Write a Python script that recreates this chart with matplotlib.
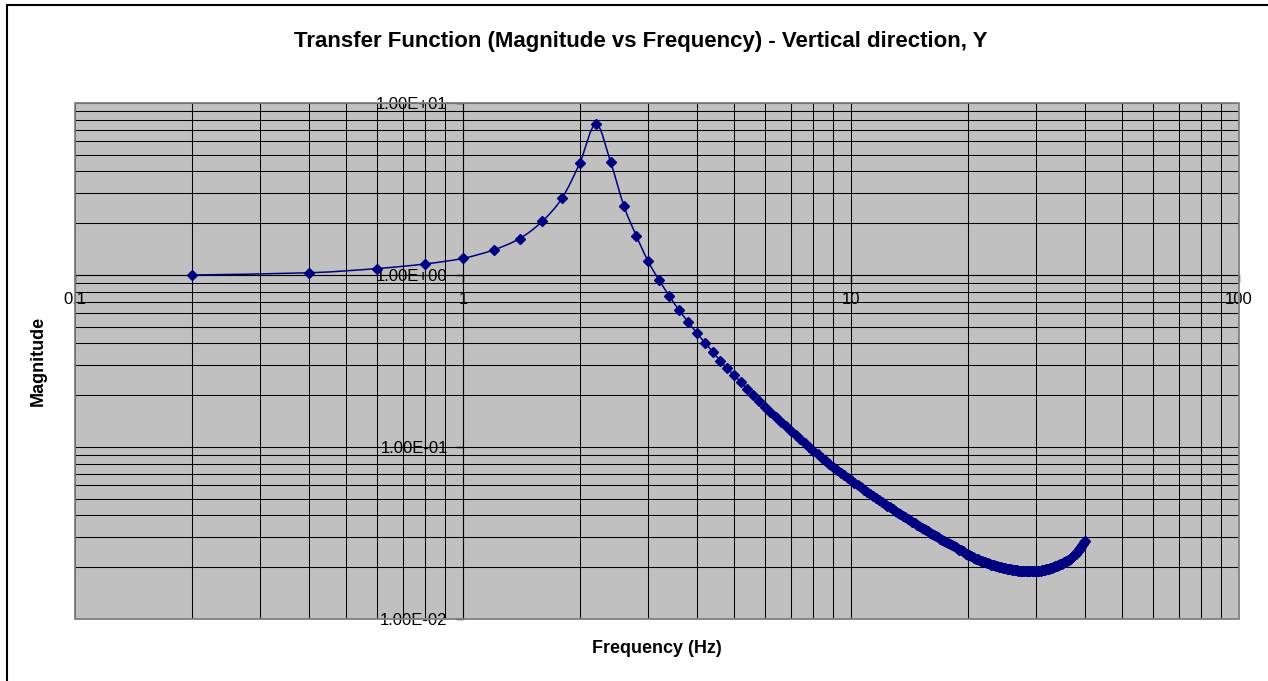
import numpy as np
import matplotlib
matplotlib.use("Agg")
import matplotlib.pyplot as plt
from matplotlib.path import Path
from matplotlib.patches import PathPatch, Rectangle
from matplotlib.ticker import FixedLocator, FuncFormatter, LogLocator, NullFormatter

plt.rcParams['font.family'] = ['Liberation Sans', 'DejaVu Sans']

# Frequency samples (Hz), 0.2 Hz resolution
freq = [
    0.2, 0.4, 0.6, 0.8, 1.0, 1.2, 1.4, 1.6, 1.8, 2.0,
    2.2, 2.4, 2.6, 2.8, 3.0, 3.2, 3.4, 3.6, 3.8, 4.0,
    4.2, 4.4, 4.6, 4.8, 5.0, 5.2, 5.4, 5.6, 5.8, 6.0,
    6.2, 6.4, 6.6, 6.8, 7.0, 7.2, 7.4, 7.6, 7.8, 8.0,
    8.2, 8.4, 8.6, 8.8, 9.0, 9.2, 9.4, 9.6, 9.8, 10.0,
    10.2, 10.4, 10.6, 10.8, 11.0, 11.2, 11.4, 11.6, 11.8, 12.0,
    12.2, 12.4, 12.6, 12.8, 13.0, 13.2, 13.4, 13.6, 13.8, 14.0,
    14.2, 14.4, 14.6, 14.8, 15.0, 15.2, 15.4, 15.6, 15.8, 16.0,
    16.2, 16.4, 16.6, 16.8, 17.0, 17.2, 17.4, 17.6, 17.8, 18.0,
    18.2, 18.4, 18.6, 18.8, 19.0, 19.2, 19.4, 19.6, 19.8, 20.0,
    20.2, 20.4, 20.6, 20.8, 21.0, 21.2, 21.4, 21.6, 21.8, 22.0,
    22.2, 22.4, 22.6, 22.8, 23.0, 23.2, 23.4, 23.6, 23.8, 24.0,
    24.2, 24.4, 24.6, 24.8, 25.0, 25.2, 25.4, 25.6, 25.8, 26.0,
    26.2, 26.4, 26.6, 26.8, 27.0, 27.2, 27.4, 27.6, 27.8, 28.0,
    28.2, 28.4, 28.6, 28.8, 29.0, 29.2, 29.4, 29.6, 29.8, 30.0,
    30.2, 30.4, 30.6, 30.8, 31.0, 31.2, 31.4, 31.6, 31.8, 32.0,
    32.2, 32.4, 32.6, 32.8, 33.0, 33.2, 33.4, 33.6, 33.8, 34.0,
    34.2, 34.4, 34.6, 34.8, 35.0, 35.2, 35.4, 35.6, 35.8, 36.0,
    36.2, 36.4, 36.6, 36.8, 37.0, 37.2, 37.4, 37.6, 37.8, 38.0,
    38.2, 38.4, 38.6, 38.8, 39.0, 39.2, 39.4, 39.6, 39.8, 40.0,
]

# Transfer function magnitude, vertical direction Y
magnitude = [
    1.00, 1.03, 1.09, 1.16, 1.25, 1.40, 1.63, 2.05, 2.80, 4.48,
    7.56, 4.55, 2.51, 1.68, 1.20, 0.935, 0.758, 0.626, 0.535, 0.462,
    0.405, 0.358, 0.318, 0.287, 0.261, 0.238, 0.218, 0.200, 0.184, 0.171,
    0.1598, 0.1497, 0.1406, 0.1322, 0.1246, 0.1176, 0.1112, 0.1053, 0.0998, 0.0949,
    0.0906, 0.0866, 0.0830, 0.0796, 0.0765, 0.0736, 0.0709, 0.0684, 0.0661, 0.0640,
    0.0621, 0.0603, 0.0584, 0.0566, 0.0547, 0.0533, 0.0519, 0.0506, 0.0492, 0.0478,
    0.0467, 0.0456, 0.0446, 0.0435, 0.0424, 0.0415, 0.0407, 0.0398, 0.0390, 0.0381,
    0.0374, 0.0367, 0.0360, 0.0353, 0.0346, 0.0340, 0.0334, 0.0329, 0.0323, 0.0317,
    0.0312, 0.0307, 0.0303, 0.0298, 0.0293, 0.0289, 0.0285, 0.0280, 0.0276, 0.0272,
    0.02683, 0.02646, 0.02609, 0.02572, 0.02535, 0.02502, 0.02469, 0.02436, 0.02403, 0.0237,
    0.02345, 0.02320, 0.02296, 0.02271, 0.02246, 0.02227, 0.02207, 0.02188, 0.02168, 0.02149,
    0.02134, 0.02119, 0.02104, 0.02089, 0.02074, 0.02062, 0.02050, 0.02037, 0.02025, 0.02013,
    0.02004, 0.01995, 0.01986, 0.01977, 0.01968, 0.01962, 0.01955, 0.01949, 0.01942, 0.01936,
    0.01932, 0.01927, 0.01923, 0.01918, 0.01914, 0.01912, 0.01909, 0.01907, 0.01904, 0.01902,
    0.01901, 0.01900, 0.01900, 0.01899, 0.01898, 0.01899, 0.01900, 0.01902, 0.01903, 0.01904,
    0.01906, 0.01908, 0.01911, 0.01913, 0.01915, 0.01922, 0.01929, 0.01936, 0.01943, 0.0195,
    0.01958, 0.01966, 0.01974, 0.01982, 0.0199, 0.0200, 0.0201, 0.0202, 0.0203, 0.0204,
    0.02052, 0.02064, 0.02076, 0.02088, 0.0210, 0.02116, 0.02132, 0.02148, 0.02164, 0.0218,
    0.02198, 0.02216, 0.02234, 0.02252, 0.0227, 0.02296, 0.02322, 0.02348, 0.02374, 0.0240,
    0.02436, 0.02472, 0.02508, 0.02544, 0.0258, 0.02634, 0.02688, 0.02742, 0.02796, 0.0285,
]

x_ticks = [0.1, 1, 10, 100]
y_ticks = [0.01, 0.1, 1, 10]

NAVY = '#000080'

fig = plt.figure(figsize=(12.68, 6.81), dpi=100)
ax = fig.add_axes([75 / 1268, 1 - 619 / 681, (1239 - 75) / 1268, (619 - 103) / 681])
ax.set_facecolor('#C0C0C0')

ax.set_xscale('log')
ax.set_yscale('log')
ax.set_xlim(0.1, 100)
ax.set_ylim(0.01, 10)

# gridlines on every log subdivision
ax.xaxis.set_major_locator(FixedLocator(x_ticks))
ax.yaxis.set_major_locator(FixedLocator(y_ticks))
ax.xaxis.set_minor_locator(LogLocator(base=10, subs=np.arange(2, 10)))
ax.yaxis.set_minor_locator(LogLocator(base=10, subs=np.arange(2, 10)))
ax.xaxis.set_minor_formatter(NullFormatter())
ax.yaxis.set_minor_formatter(NullFormatter())
ax.xaxis.set_major_formatter(FuncFormatter(lambda v, p: '%g' % v))
ax.yaxis.set_major_formatter(FuncFormatter(lambda v, p: format(v, '.2E')))
ax.grid(which='both', color='black', linewidth=0.75)

# axes cross at (1, 1) like the spreadsheet default
for side in ['top', 'right']:
    ax.spines[side].set_visible(False)
ax.spines['left'].set_position(('data', 1))
ax.spines['bottom'].set_position(('data', 1))
ax.spines['left'].set_color('black')
ax.spines['bottom'].set_color('black')
ax.tick_params(which='major', direction='out', length=5, width=1, labelsize=12)
ax.tick_params(axis='x', which='major', pad=7)
ax.tick_params(axis='y', which='major', pad=6)
ax.tick_params(which='minor', length=0)

# plot-area border
ax.add_patch(Rectangle((0, 0), 1, 1, transform=ax.transAxes, fill=False,
                       edgecolor='#808080', linewidth=1.3, zorder=2.6, clip_on=False))

# smoothed line (bezier through the points in log space), then markers
pts = np.column_stack([np.log10(freq), np.log10(magnitude)])
ext = np.vstack([pts[0], pts, pts[-1]])
verts = [pts[0]]
codes = [Path.MOVETO]
for i in range(len(pts) - 1):
    c1 = pts[i] + (ext[i + 2] - ext[i]) / 6.0
    c2 = pts[i + 1] - (ext[i + 3] - ext[i + 1]) / 6.0
    verts += [c1, c2, pts[i + 1]]
    codes += [Path.CURVE4] * 3
curve = Path(10 ** np.array(verts), codes)
ax.add_patch(PathPatch(curve, fill=False, edgecolor=NAVY, linewidth=1.1, zorder=3))
ax.plot(freq, magnitude, linestyle='none', marker='D', markersize=5.5,
        color=NAVY, markeredgecolor=NAVY, zorder=4)

ax.set_title('Transfer Function (Magnitude vs Frequency) - Vertical direction, Y',
             fontsize=16, fontweight='bold', x=0.486, y=1.12, va='center', pad=0)
ax.set_xlabel('Frequency (Hz)', fontsize=13, fontweight='bold')
ax.xaxis.label.set_verticalalignment('center')
ax.xaxis.set_label_coords(0.5, -0.058)
ax.set_ylabel('Magnitude', fontsize=13, fontweight='bold')
ax.yaxis.label.set_verticalalignment('center')
ax.yaxis.set_label_coords(-0.032, 0.5)

# chart border (right and bottom edges fall outside the image)
fig.patches.append(Rectangle((7 / 1268, -0.1), 1.2, 1.1 - 5 / 681, transform=fig.transFigure,
                             fill=False, edgecolor='black', linewidth=1.5))

fig.savefig('out.png', dpi=100)
